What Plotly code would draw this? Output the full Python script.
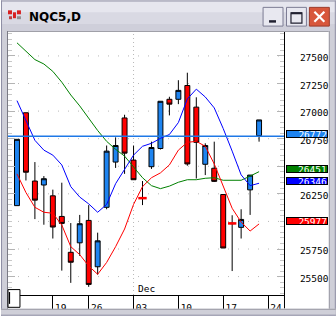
import plotly.graph_objects as go

# ---------------- data ----------------
idx = list(range(28))
opens = [26143, 26985, 26366, 26330, 26232, 26045, 25720, 25806, 26009, 25589,
         26128, 26538, 26938, 26556, 26213, 26496, 26661, 27107, 27107, 27232,
         27036, 26518, 26482, 26244, 25984, 25946, 26286, 26777]
highs = [26744, 26985, 26538, 26411, 26288, 26351, 25985, 26059, 26148, 25898,
         26688, 26762, 26967, 26688, 26366, 26723, 27089, 27130, 27280, 27348,
         27125, 26708, 26723, 26244, 26056, 26110, 26420, 26920]
lows = [26143, 26371, 26021, 25970, 25845, 25554, 25443, 25688, 25407, 25518,
        26110, 26485, 26431, 26378, 26148, 26476, 26652, 26961, 27063, 26505,
        26389, 26420, 26357, 25759, 25550, 25845, 26059, 26723]
closes = [26744, 26446, 26193, 26387, 25949, 25982, 25630, 25979, 25429, 25824,
          26637, 26688, 26619, 26378, 26209, 26670, 27089, 27063, 27188, 26521,
          26717, 26688, 26363, 25759, 25980, 26018, 26420, 26920]

ma_blue = [27095, 26916, 26735, 26646, 26601, 26512, 26315, 26221, 26159, 26083,
           26154, 26342, 26467, 26601, 26681, 26708, 26753, 26788, 26896, 27110,
           27199, 27128, 27029, 26842, 26637, 26422, 26324, 26346]
ma_red = [26431, 26262, 26128, 26083, 26074, 25967, 25771, 25699, 25596, 25521,
          25628, 25771, 25931, 26154, 26315, 26396, 26440, 26512, 26646, 26717,
          26726, 26681, 26521, 26315, 26119, 25994, 25913, 25977]
ma_green = [27619, 27541, 27467, 27427, 27360, 27262, 27146, 27047, 26936, 26824,
            26726, 26654, 26592, 26494, 26396, 26324, 26297, 26320, 26355, 26378,
            26378, 26391, 26396, 26373, 26371, 26373, 26411, 26451]

last_price = 26772
tags = [(26772, "#1E84F0"), (26451, "#008000"), (26346, "#0000FF"), (25977, "#FF0000")]

x_tick_pos = [4, 8, 13, 18, 23, 28]
x_tick_text = ["19", "26", "03", "10", "17", "24"]
month_label = "Dec"
month_tick = "03"

# 26000 label is fully hidden under the red tag in the reference
y_tick_vals = [25500, 25750, 26250, 26500, 26750, 27000, 27250, 27500]
y_tick_text = [str(v) for v in y_tick_vals]
y_grid_step = 250

title = "NQC5,D"

W, H = 336, 320
L, R, T, B = 7, 52, 32, 21
PW, PH = W - L - R, H - T - B


def px(x):
    return (x - L) / PW


def py(y):
    return (H - B - y) / PH


MONO = "DejaVu Sans Mono"

fig = go.Figure()

fig.add_trace(go.Scatter(x=idx, y=ma_green, mode="lines",
                         line=dict(color="#008000", width=1), hoverinfo="skip"))
fig.add_trace(go.Scatter(x=idx, y=ma_blue, mode="lines",
                         line=dict(color="#0000FF", width=1), hoverinfo="skip"))
fig.add_trace(go.Scatter(x=idx, y=ma_red, mode="lines",
                         line=dict(color="#FF0000", width=1), hoverinfo="skip"))

fig.add_trace(go.Candlestick(
    x=idx, open=opens, high=highs, low=lows, close=closes,
    increasing=dict(line=dict(color="#000000", width=1), fillcolor="#1E84F0"),
    decreasing=dict(line=dict(color="#000000", width=1), fillcolor="#FF0000"),
    whiskerwidth=0, hoverinfo="skip"))

# doji marks
doji_x = [i for i in idx if abs(opens[i] - closes[i]) < 10]
doji_y = [(opens[i] + closes[i]) / 2 for i in doji_x]
fig.add_trace(go.Scatter(x=doji_x, y=doji_y, mode="markers",
                         marker=dict(symbol="line-ew", size=6,
                                     line=dict(color="#FF0000", width=2.5)),
                         hoverinfo="skip"))

shapes = []
annotations = []

# last price line
shapes.append(dict(type="line", xref="paper", x0=0, x1=1, yref="y",
                   y0=last_price, y1=last_price,
                   line=dict(color="#1E78E6", width=1.3), layer="above"))

# month boundary dotted line
mx = x_tick_pos[x_tick_text.index(month_tick)]
shapes.append(dict(type="line", xref="x", x0=mx, x1=mx, yref="paper", y0=0, y1=1,
                   line=dict(color="#b8b8b8", width=1, dash="1px,3px"), layer="below"))
annotations.append(dict(text=month_label, x=mx, xref="x", xanchor="left", xshift=2,
                        y=0, yref="paper", yanchor="bottom", yshift=-1, showarrow=False,
                        font=dict(family=MONO, size=9.5, color="#000")))

# price tags
for v, c in tags:
    annotations.append(dict(text=str(v), x=px(307), xref="paper", xanchor="center",
                            y=v, yref="y", yanchor="middle", yshift=2.5, showarrow=False,
                            width=40, height=6, align="right", bgcolor=c,
                            bordercolor="#000000", borderwidth=1, borderpad=0,
                            font=dict(family=MONO, size=9.5, color="#ffffff")))

# ---------- window chrome ----------
def rect(x0, y0, x1, y1, fill, line=None, lw=0):
    shapes.append(dict(type="rect", xref="paper", yref="paper",
                       x0=px(x0), x1=px(x1), y0=py(y1), y1=py(y0),
                       fillcolor=fill, line=dict(color=line or fill, width=lw),
                       layer="above"))


def seg(x0, y0, x1, y1, color, w=1):
    shapes.append(dict(type="line", xref="paper", yref="paper",
                       x0=px(x0), x1=px(x1), y0=py(y0), y1=py(y1),
                       line=dict(color=color, width=w), layer="above"))


# title bar
rect(0, 0, 336, 31, "#d9d9e3")
rect(0, 0, 336, 12, "#e6e6ee")
rect(0, 24, 336, 31, "#cfcfda")
seg(0, 0.5, 336, 0.5, "#8e8ea4")
# frames
rect(0, 29, 7, 320, "#cfcfd8")
seg(0.5, 0, 0.5, 320, "#8e8ea4")
seg(6.5, 31, 6.5, 313, "#7a7a84")
rect(329, 29, 336, 320, "#cfcfd8")
seg(335.5, 0, 335.5, 320, "#8e8ea4")
seg(329.5, 31, 329.5, 313, "#9a9aa4")
rect(0, 313, 336, 320, "#cfcfd8")
seg(0, 313.5, 336, 313.5, "#9a9aa4")
seg(0, 319.5, 336, 319.5, "#8e8ea4")
seg(7, 31.5, 329, 31.5, "#a0a0a8")

# icon
rect(7, 10, 11, 14, "#d82020")
rect(12, 12, 15, 18, "#d82020")
rect(16, 10, 20, 14, "#d82020")
rect(8, 16, 11, 19, "#c04040")
rect(16, 16, 20, 19, "#909090")

# buttons
rect(263, 7, 283, 26, "#e8e8f0", "#7c7c94", 1)
rect(269, 20, 276, 22.5, "#202030")
rect(286.5, 7, 306.5, 26, "#e8e8f0", "#7c7c94", 1)
rect(291, 12.5, 302, 23, "rgba(0,0,0,0)", "#202030", 1.2)
rect(291, 12, 302, 14, "#202030")
rect(309.5, 7, 329.5, 26, "#d8573c", "#9c3c2c", 1)
seg(314.5, 11.5, 324.5, 21.5, "#ffffff", 2.2)
seg(324.5, 11.5, 314.5, 21.5, "#ffffff", 2.2)

annotations.append(dict(text="<b>" + title + "</b>", x=px(26), xref="paper", xanchor="left",
                        y=py(17), yref="paper", yanchor="middle", showarrow=False,
                        font=dict(family="DejaVu Sans", size=12, color="#000000")))

# axis box extras
seg(284.5, 299, 284.5, 312.5, "#000000")
rect(7, 293.5, 19, 311.5, "#ffffff", "#000000", 1)
seg(8.5, 296, 8.5, 308, "#000000", 1.2)

fig.update_layout(
    width=W, height=H,
    margin=dict(l=L, r=R, t=T, b=B, pad=0),
    paper_bgcolor="#ffffff", plot_bgcolor="#ffffff",
    showlegend=False, hovermode=False,
    boxgap=0.45, boxgroupgap=0,
    shapes=shapes, annotations=annotations,
    xaxis=dict(range=[-1, 29.78], rangeslider=dict(visible=False),
               tickmode="array", tickvals=x_tick_pos, ticktext=x_tick_text,
               ticks="outside", ticklen=13, tickcolor="#000", tickwidth=1,
               showline=True, linecolor="#000", linewidth=1, mirror=True,
               showgrid=False, zeroline=False, ticklabelshift=8, ticklabelstandoff=-9,
               tickfont=dict(family=MONO, size=9.5, color="#000")),
    yaxis=dict(range=[25333, 27717], side="right",
               tickmode="array", tickvals=y_tick_vals, ticktext=y_tick_text,
               ticks="inside", ticklen=7, tickcolor="#b4b4b4", tickwidth=1,
               minor=dict(dtick=50, ticks="inside", ticklen=4, tickcolor="#c8c8c8",
                          showgrid=True, gridcolor="rgba(0,0,0,0)"),
               showline=True, linecolor="#000", linewidth=1, mirror="allticks",
               showgrid=True, gridcolor="#b8b8b8", griddash="1px,9px", gridwidth=1,
               zeroline=False, ticklabelstandoff=13, ticklabelshift=2,
               tickfont=dict(family=MONO, size=9.5, color="#000")),
)
# grid at every 250 including the hidden 26000 level
fig.update_yaxes(showgrid=False)
for g in range(25500, 27501, y_grid_step):
    fig.add_shape(type="line", xref="paper", x0=0, x1=1, yref="y", y0=g, y1=g,
                  line=dict(color="#b8b8b8", width=1, dash="1px,9px"), layer="below")

fig.write_html("out.html")
